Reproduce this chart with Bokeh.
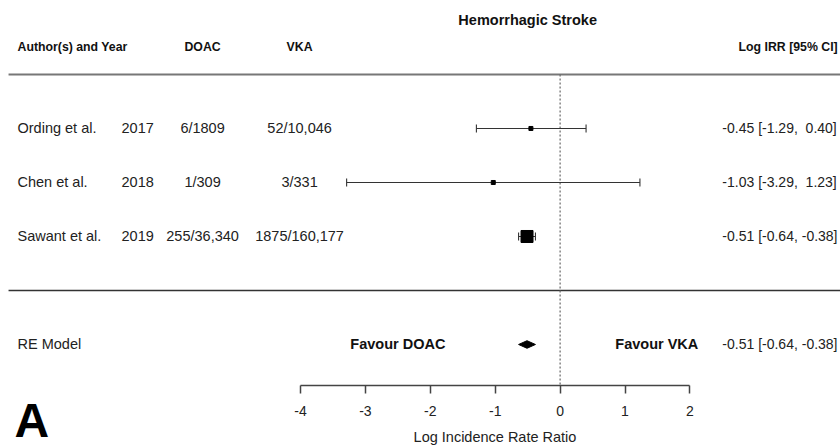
from bokeh.plotting import figure
from bokeh.models import Range1d, LinearAxis, FixedTicker, ColumnDataSource
from bokeh.core.properties import value
from bokeh.embed import file_html
from bokeh.resources import INLINE

# ---------------- data ----------------
title = "Hemorrhagic Stroke"
col_headers = ["Author(s) and Year", "DOAC", "VKA"]
ci_header = "Log IRR [95% CI]"
authors = ["Ording et al.", "Chen et al.", "Sawant et al."]
years = ["2017", "2018", "2019"]
doac_events = ["6/1809", "1/309", "255/36,340"]
vka_events = ["52/10,046", "3/331", "1875/160,177"]
est = [-0.45, -1.03, -0.51]
lower = [-1.29, -3.29, -0.64]
upper = [0.40, 1.23, -0.38]
re_label = "RE Model"
re_est, re_lower, re_upper = -0.51, -0.64, -0.38
favour_left = "Favour DOAC"
favour_right = "Favour VKA"
xticks = [-4, -3, -2, -1, 0, 1, 2]
xlabel = "Log Incidence Rate Ratio"
panel = "A"

# ---------------- layout ----------------
FONT = "Liberation Sans"
rows = [5, 4, 3]
re_row = 1
axis_y = 0.2407
marker_sizes = [4, 4, 12]


def fmt(v):
    return f"{v:5.2f}".replace(" ", "\u00a0")


ci_text = [f"{e:.2f} [{fmt(l)}, {fmt(h)}]" for e, l, h in zip(est, lower, upper)]
re_text = f"{re_est:.2f} [{fmt(re_lower)}, {fmt(re_upper)}]"

p = figure(width=840, height=446, output_backend="svg", toolbar_location=None,
           x_range=Range1d(-8.624, 4.321), y_range=Range1d(-0.889, 7.370),
           x_axis_type=None, y_axis_type=None,
           min_border_left=0, min_border_right=0, min_border_top=0, min_border_bottom=0)
p.outline_line_color = None
p.xgrid.visible = False
p.ygrid.visible = False
p.background_fill_color = "white"
p.border_fill_color = "white"

ax = LinearAxis(ticker=FixedTicker(ticks=xticks), bounds=(xticks[0], xticks[-1]),
                axis_label=xlabel, fixed_location=axis_y,
                major_label_overrides={t: str(t) for t in xticks})
ax.axis_line_color = "#444444"
ax.axis_line_width = 1.5
ax.major_tick_line_color = "#444444"
ax.major_tick_line_width = 1.5
ax.major_tick_out = 8
ax.major_tick_in = 0
ax.minor_tick_line_color = None
ax.major_label_text_font = FONT
ax.major_label_text_font_size = "14px"
ax.major_label_text_color = "#222222"
ax.major_label_standoff = 13
ax.axis_label_text_font = FONT
ax.axis_label_text_font_size = "14.5px"
ax.axis_label_text_font_style = "normal"
ax.axis_label_text_color = "#222222"
ax.axis_label_standoff = 9
p.add_layout(ax, "below")

# horizontal separator lines
p.segment(x0=[-8.50], y0=[6], x1=[4.321], y1=[6], line_color="#777777", line_width=2.2)
p.segment(x0=[-8.50], y0=[2], x1=[4.321], y1=[2], line_color="#333333", line_width=1.3)
# reference line at 0
p.segment(x0=[0], y0=[6], x1=[0], y1=[axis_y], line_color="#666666", line_width=1.2,
          line_dash="2 2")

# study CIs
src = ColumnDataSource(dict(y=rows, est=est, lo=lower, hi=upper, size=marker_sizes,
                            author=authors, year=years, doac=doac_events, vka=vka_events,
                            ci=ci_text,
                            ytop=[r + 0.075 for r in rows], ybot=[r - 0.075 for r in rows]))
p.segment(x0="lo", y0="y", x1="hi", y1="y", source=src, line_color="#333333", line_width=1.1)
p.segment(x0="lo", y0="ybot", x1="lo", y1="ytop", source=src, line_color="#333333", line_width=1.1)
p.segment(x0="hi", y0="ybot", x1="hi", y1="ytop", source=src, line_color="#333333", line_width=1.1)
p.scatter(x="est", y="y", size="size", marker="square", source=src,
          fill_color="black", line_color="black")

# RE diamond
h = 0.07
p.patch(x=[re_lower, re_est, re_upper, re_est], y=[re_row, re_row + h, re_row, re_row - h],
        fill_color="black", line_color="black", line_width=1)

tf = value(FONT)
# text columns
p.text(x=-8.362, y="y", text="author", source=src, text_font=tf, text_font_size="14.5px",
       text_baseline="middle", text_align="left", text_color="#222222")
p.text(x=-6.759, y="y", text="year", source=src, text_font=tf, text_font_size="14.5px",
       text_baseline="middle", text_align="left", text_color="#222222")
p.text(x=-5.51, y="y", text="doac", source=src, text_font=tf, text_font_size="14.5px",
       text_baseline="middle", text_align="center", text_color="#222222")
p.text(x=-4.015, y="y", text="vka", source=src, text_font=tf, text_font_size="14.5px",
       text_baseline="middle", text_align="center", text_color="#222222")
p.text(x=2.50, y="y", text="ci", source=src, text_font=tf, text_font_size="14px",
       text_baseline="middle", text_align="left", text_color="#222222")

# RE row texts
p.text(x=[-8.362], y=[re_row], text=[re_label], text_font=tf, text_font_size="14.5px",
       text_baseline="middle", text_align="left", text_color="#222222")
p.text(x=[2.50], y=[re_row], text=[re_text], text_font=tf, text_font_size="14px",
       text_baseline="middle", text_align="left", text_color="#222222")
p.text(x=[-2.50, 1.49], y=[re_row, re_row], text=[favour_left, favour_right], text_font=tf,
       text_font_size="14.5px", text_font_style="bold", text_baseline="middle",
       text_align="center", text_color="#111111")

# headers
p.text(x=[-8.362], y=[6.5], text=[col_headers[0]], text_font=tf, text_font_size="12.3px",
       text_font_style="bold", text_baseline="middle", text_align="left", text_color="#111111")
p.text(x=[-5.51, -4.015], y=[6.5, 6.5], text=col_headers[1:], text_font=tf,
       text_font_size="12.3px", text_font_style="bold", text_baseline="middle",
       text_align="center", text_color="#111111")
p.text(x=[4.277], y=[6.5], text=[ci_header], text_font=tf, text_font_size="12.3px",
       text_font_style="bold", text_baseline="middle", text_align="right", text_color="#111111")
p.text(x=[-0.50], y=[7.0], text=[title], text_font=tf, text_font_size="14.5px",
       text_font_style="bold", text_baseline="middle", text_align="center", text_color="#111111")

# panel letter
p.text(x=[-8.41], y=[-0.407], text=[panel], text_font=tf, text_font_size="48px",
       text_font_style="bold", text_baseline="middle", text_align="left", text_color="black")

open("out.html", "w").write(file_html(p, INLINE))
